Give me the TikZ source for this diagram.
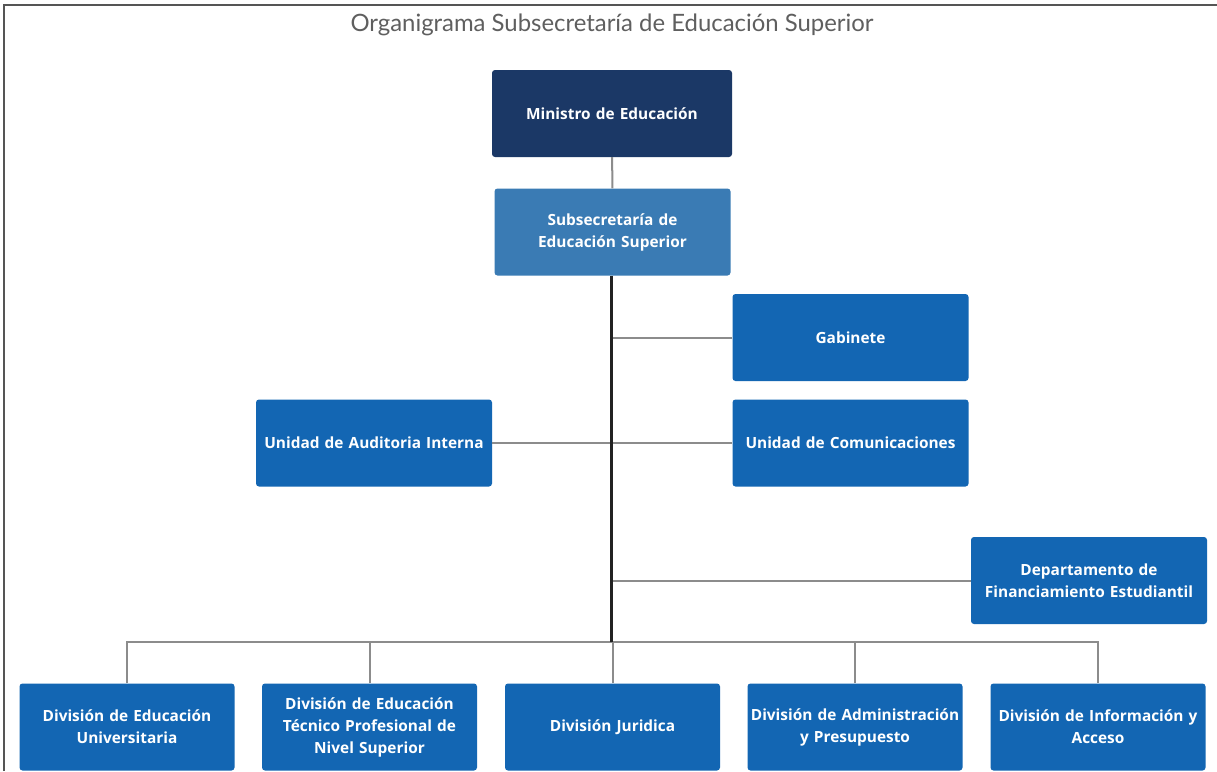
\documentclass[tikz,border=0pt]{standalone}
\usepackage{fontspec}
\setmainfont{Lato}
\newfontfamily\boxfont{Open Sans}
\definecolor{navy}{HTML}{1B3866}
\definecolor{steel}{HTML}{3A7BB4}
\definecolor{unit}{HTML}{1366B3}
\definecolor{frame}{HTML}{555555}
\definecolor{titlegray}{HTML}{5F5F5F}
\definecolor{branchgray}{HTML}{8C8C8C}
\definecolor{trunkblack}{HTML}{222222}
\tikzset{
  orgbox/.style={fill=unit, text=white, font=\boxfont\bfseries\fontsize{15.4}{22}\selectfont,
    rounded corners=3pt, align=center, inner sep=1pt, draw=none},
  wide/.style={orgbox, minimum width=236pt, minimum height=87pt, text width=234pt},
  narrow/.style={orgbox, minimum width=214pt, minimum height=87pt, text width=213pt},
  branch/.style={draw=branchgray, line width=2pt},
  trunk/.style={draw=trunkblack, line width=2.6pt},
}
\begin{document}
\begin{tikzpicture}[x=1pt,y=-1pt]
\useasboundingbox (0,0) rectangle (1217,771);
\fill[white] (0,0) rectangle (1217,771);
% outer frame (left and top edges)
\draw[frame, line width=2.5pt] (4,771) -- (4,5) -- (1217,5);
\node[text=titlegray, font=\fontsize{23.9}{28}\selectfont] (title) at (612,25) {Organigrama Subsecretaría de Educación Superior};

% boxes
\node[wide, fill=navy, minimum width=240pt] (min) at (612,113.5) {Ministro de Educación};
\node[wide, fill=steel, minimum width=235pt] (sub) at (612.5,232) {Subsecretaría de\\Educación Superior};
\node[wide, minimum width=235pt] (gab) at (850.5,337.5) {Gabinete};
\node[wide, minimum width=235pt] (com) at (850.5,443) {Unidad de Comunicaciones};
\node[wide] (aud) at (374,443) {Unidad de Auditoria Interna};
\node[wide] (dep) at (1089,580.5) {Departamento de\\Financiamiento Estudiantil};

\node[narrow] (b1) at (127,727) {División de Educación\\Universitaria};
\node[narrow] (b2) at (369.5,727) {División de Educación\\Técnico Profesional de\\Nivel Superior};
\node[narrow] (b3) at (612.5,727) {División Juridica};
\node[narrow] (b4) at (855,727) {División de Administración\\y Presupuesto};
\node[narrow] (b5) at (1098,727) {División de Información y\\Acceso};

\coordinate (bus) at (611.5,642);

% connectors
\draw[branch] (min) -- (sub);
\draw[branch] (gab.west) -- (gab.west -| bus);
\draw[branch] (aud.east) -- (com.west);
\draw[branch] (dep.west) -- (dep.west -| bus);
\draw[branch] (b1.north) |- (bus) -| (b5.north);
\draw[branch] (b2.north) -- (b2.north |- bus);
\draw[branch] (b3.north) -- (b3.north |- bus);
\draw[branch] (b4.north) -- (b4.north |- bus);
\draw[trunk] (sub.south -| bus) -- (bus);
\end{tikzpicture}
\end{document}
